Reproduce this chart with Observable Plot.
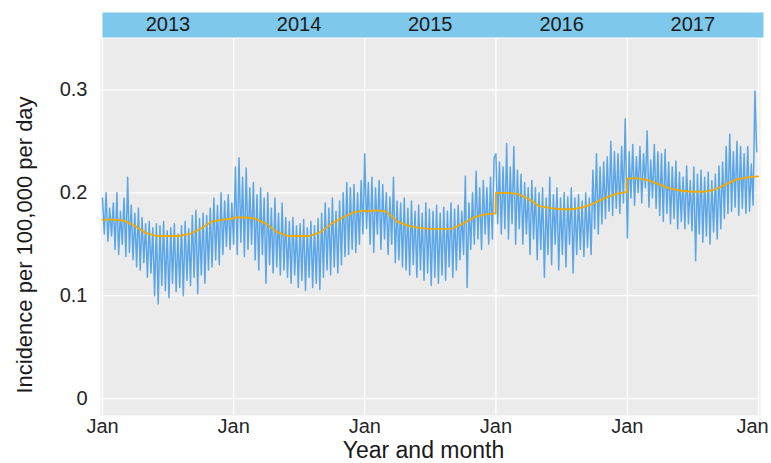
<!DOCTYPE html>
<html>
<head>
<meta charset="utf-8">
<script src="https://cdn.jsdelivr.net/npm/d3@7"></script>
<script src="https://cdn.jsdelivr.net/npm/@observablehq/plot@0.6"></script>
<style>
  html, body { margin: 0; padding: 0; background: #ffffff; }
  #chart svg { display: block; }
</style>
</head>
<body>
<div id="chart"></div>
<script>
// Daily incidence per 100,000, one reading every 5 days from 1 January of each year
const years = [2013, 2014, 2015, 2016, 2017];

const daily2013 = [
  0.195, 0.160, 0.200, 0.153, 0.185, 0.158, 0.190,
  0.145, 0.200, 0.140, 0.182, 0.150, 0.195,
  0.138, 0.215, 0.142, 0.188, 0.135, 0.180,
  0.128, 0.185, 0.125, 0.176, 0.132, 0.170,
  0.118, 0.172, 0.122, 0.166, 0.100, 0.170,
  0.092, 0.168, 0.110, 0.172, 0.105, 0.163,
  0.098, 0.166, 0.112, 0.170, 0.104, 0.160,
  0.108, 0.168, 0.100, 0.172, 0.115, 0.165,
  0.110, 0.178, 0.118, 0.183, 0.102, 0.175,
  0.120, 0.180, 0.112, 0.178, 0.125, 0.185,
  0.128, 0.195, 0.135, 0.188, 0.130, 0.200,
  0.140, 0.192, 0.148, 0.198, 0.145, 0.190
];
const daily2014 = [
  0.150, 0.225, 0.140, 0.234, 0.152, 0.215, 0.138,
  0.224, 0.145, 0.205, 0.150, 0.210, 0.135,
  0.198, 0.125, 0.205, 0.140, 0.195, 0.112,
  0.200, 0.130, 0.185, 0.122, 0.195, 0.128,
  0.180, 0.120, 0.190, 0.125, 0.176, 0.118,
  0.172, 0.112, 0.176, 0.120, 0.168, 0.108,
  0.170, 0.115, 0.174, 0.105, 0.166, 0.118,
  0.172, 0.108, 0.168, 0.112, 0.175, 0.106,
  0.180, 0.118, 0.190, 0.125, 0.185, 0.120,
  0.195, 0.128, 0.182, 0.122, 0.192, 0.130,
  0.200, 0.138, 0.210, 0.140, 0.205, 0.145,
  0.208, 0.142, 0.200, 0.150, 0.212, 0.160
];
const daily2015 = [
  0.238, 0.165, 0.210, 0.150, 0.215, 0.142, 0.205,
  0.160, 0.212, 0.145, 0.208, 0.155, 0.200,
  0.140, 0.196, 0.150, 0.215, 0.132, 0.192,
  0.135, 0.190, 0.128, 0.195, 0.125, 0.185,
  0.120, 0.192, 0.130, 0.182, 0.118, 0.188,
  0.125, 0.180, 0.115, 0.190, 0.122, 0.184,
  0.110, 0.182, 0.118, 0.188, 0.112, 0.180,
  0.120, 0.186, 0.115, 0.182, 0.128, 0.190,
  0.118, 0.184, 0.125, 0.188, 0.135, 0.182,
  0.140, 0.216, 0.108, 0.190, 0.145, 0.200,
  0.150, 0.221, 0.155, 0.205, 0.145, 0.212,
  0.160, 0.205, 0.150, 0.215, 0.155, 0.234
];
const daily2016 = [
  0.238, 0.170, 0.230, 0.160, 0.225, 0.165, 0.248,
  0.155, 0.225, 0.170, 0.245, 0.150, 0.222,
  0.165, 0.218, 0.150, 0.210, 0.160, 0.205,
  0.140, 0.212, 0.155, 0.205, 0.135, 0.200,
  0.145, 0.205, 0.118, 0.195, 0.140, 0.215,
  0.130, 0.198, 0.150, 0.205, 0.125, 0.195,
  0.140, 0.200, 0.128, 0.196, 0.150, 0.205,
  0.122, 0.195, 0.140, 0.198, 0.145, 0.192,
  0.138, 0.200, 0.147, 0.195, 0.140, 0.222,
  0.165, 0.238, 0.160, 0.225, 0.170, 0.230,
  0.175, 0.235, 0.182, 0.250, 0.178, 0.240,
  0.185, 0.238, 0.180, 0.245, 0.190, 0.272
];
const daily2017 = [
  0.156, 0.240, 0.195, 0.247, 0.188, 0.235, 0.200,
  0.245, 0.190, 0.238, 0.205, 0.260, 0.186,
  0.232, 0.195, 0.247, 0.185, 0.240, 0.178,
  0.238, 0.172, 0.242, 0.180, 0.230, 0.170,
  0.225, 0.175, 0.231, 0.165, 0.220, 0.172,
  0.215, 0.165, 0.226, 0.170, 0.212, 0.163,
  0.225, 0.134, 0.218, 0.160, 0.222, 0.152,
  0.215, 0.158, 0.220, 0.150, 0.212, 0.162,
  0.218, 0.155, 0.226, 0.165, 0.230, 0.175,
  0.245, 0.180, 0.257, 0.182, 0.240, 0.186,
  0.250, 0.178, 0.245, 0.185, 0.238, 0.180,
  0.245, 0.182, 0.228, 0.188, 0.299, 0.240
];

// Fitted seasonal trend: 1st of each month, plus 31 December
const trend2013 = [0.174, 0.174, 0.173, 0.168, 0.161, 0.158, 0.158, 0.158, 0.160, 0.165, 0.172, 0.174, 0.175];
const trend2014 = [0.176, 0.176, 0.175, 0.170, 0.162, 0.158, 0.158, 0.158, 0.162, 0.170, 0.176, 0.181, 0.183];
const trend2015 = [0.182, 0.183, 0.182, 0.172, 0.168, 0.166, 0.165, 0.165, 0.165, 0.170, 0.176, 0.179, 0.180];
const trend2016 = [0.200, 0.200, 0.199, 0.194, 0.187, 0.185, 0.184, 0.184, 0.186, 0.190, 0.195, 0.199, 0.201];
const trend2017 = [0.214, 0.214, 0.212, 0.208, 0.204, 0.202, 0.201, 0.201, 0.203, 0.208, 0.213, 0.215, 0.216];

const yTicks = [0, 0.1, 0.2, 0.3];
const xTickLabel = "Jan";
const yTitle = "Incidence per 100,000 per day";
const xTitle = "Year and month";

const dailyByYear = [daily2013, daily2014, daily2015, daily2016, daily2017];
const trendByYear = [trend2013, trend2014, trend2015, trend2016, trend2017];

const daily = years.flatMap((yr, k) =>
  dailyByYear[k].map((v, i) => ({date: new Date(Date.UTC(yr, 0, 1 + 5 * i)), value: v}))
);
const trend = years.flatMap((yr, k) =>
  trendByYear[k].map((v, m) => ({
    date: m < 12 ? new Date(Date.UTC(yr, m, 1)) : new Date(Date.UTC(yr, 11, 31)),
    value: v
  }))
);
const janTicks = [...years, years[years.length - 1] + 1].map(yr => new Date(Date.UTC(yr, 0, 1)));

const font = "'Liberation Sans', Arial, sans-serif";

const chart = Plot.plot({
  width: 771,
  height: 463,
  marginTop: 38,
  marginBottom: 48,
  marginLeft: 102,
  marginRight: 13,
  style: {fontFamily: font, background: "#ffffff", color: "#262626"},
  x: {type: "utc", domain: [janTicks[0], janTicks[janTicks.length - 1]]},
  y: {domain: [-0.0165, 0.35]},
  marks: [
    // panel background
    Plot.frame({fill: "#ebebeb", stroke: null, insetLeft: -2, insetRight: -2}),
    // year strip across the top
    Plot.frame({fill: "#7dc8eb", stroke: null, insetTop: -26, insetBottom: 378, insetRight: -5}),
    Plot.text(years, {
      x: yr => new Date(Date.UTC(yr, 6, 2)),
      text: yr => String(yr),
      frameAnchor: "top",
      lineAnchor: "middle",
      dy: -14,
      fontSize: 20,
      fill: "#1a1a1a"
    }),
    Plot.gridY(yTicks, {stroke: "#ffffff", strokeOpacity: 1, strokeWidth: 1.3, insetLeft: -2, insetRight: -2}),
    Plot.gridX(janTicks, {stroke: "#ffffff", strokeOpacity: 1, strokeWidth: 1.3}),
    Plot.axisY(yTicks, {
      tickSize: 0,
      tickPadding: 15,
      fontSize: 20,
      label: null,
      tickFormat: d3.format("~g")
    }),
    // "Jan" under each year boundary; the last one is nudged inside the page
    Plot.axisX(janTicks.slice(0, -1), {
      tickSize: 0,
      tickPadding: 3,
      fontSize: 20,
      label: null,
      tickFormat: () => xTickLabel
    }),
    Plot.axisX(janTicks.slice(-1), {
      tickSize: 0,
      tickPadding: 3,
      fontSize: 20,
      label: null,
      dx: -6,
      tickFormat: () => xTickLabel
    }),
    Plot.line(daily, {x: "date", y: "value", stroke: "#5aa6e8", strokeWidth: 1.5}),
    Plot.line(trend, {x: "date", y: "value", stroke: "#f2a900", strokeWidth: 1.8}),
    Plot.text([yTitle], {
      frameAnchor: "left", textAnchor: "middle", lineAnchor: "middle",
      rotate: -90, dx: -78, dy: 18, fontSize: 22, fill: "#1a1a1a"
    }),
    Plot.text([xTitle], {
      frameAnchor: "bottom", textAnchor: "middle", lineAnchor: "middle",
      dx: -7, dy: 35, fontSize: 23, fill: "#1a1a1a"
    })
  ]
});

document.getElementById("chart").appendChild(chart);
</script>
</body>
</html>
